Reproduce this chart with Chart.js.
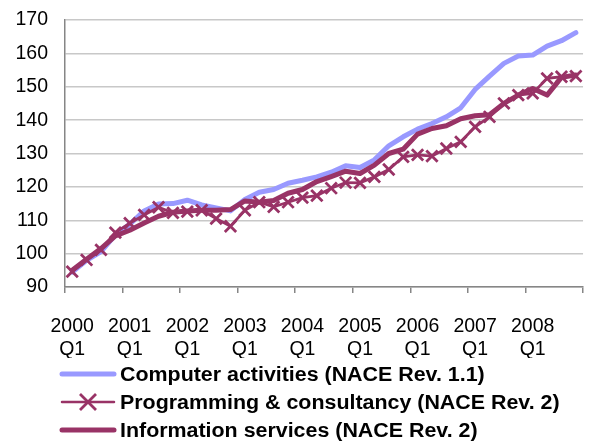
<!DOCTYPE html>
<html>
<head>
<meta charset="utf-8">
<script src="https://cdn.jsdelivr.net/npm/chart.js@4.4.1/dist/chart.umd.min.js"></script>
<style>
  html, body { margin: 0; padding: 0; background: #ffffff; }
  #wrap { width: 598px; height: 441px; }
</style>
</head>
<body>
<div id="wrap"><canvas id="c" width="598" height="441"></canvas></div>
<script>
// ---- data ----
const years = ['2000','2001','2002','2003','2004','2005','2006','2007','2008'];
const quarters = ['Q1','Q2','Q3','Q4'];
const categories = [];
years.forEach(y => quarters.forEach(q => categories.push(y + ' ' + q)));

const seriesNames = [
  'Computer activities (NACE Rev. 1.1)',
  'Programming & consultancy (NACE Rev. 2)',
  'Information services (NACE Rev. 2)'
];

const computerActivities = [
  94.5, 98.0, 100.6, 105.6, 108.8, 112.8, 114.9, 115.0, 116.0, 114.6, 113.7, 112.8,
  116.2, 118.4, 119.2, 121.1, 122.0, 123.0, 124.4, 126.3, 125.8, 128.1, 132.3, 135.0,
  137.3, 139.0, 141.0, 143.7, 149.2, 153.2, 157.0, 159.2, 159.5, 162.2, 163.8, 166.2
];
const programmingConsultancy = [
  94.6, 98.1, 101.1, 106.3, 109.1, 111.6, 113.9, 112.2, 112.6, 113.0, 110.5, 108.2,
  113.0, 115.4, 114.0, 115.4, 116.8, 117.4, 119.6, 121.3, 121.2, 123.0, 125.2, 129.0,
  129.6, 129.2, 131.5, 133.5, 138.0, 141.0, 145.0, 147.5, 148.0, 152.5, 153.0, 153.2
];
const informationServices = [
  95.0, 98.3, 101.5, 105.3, 107.0, 109.2, 111.2, 112.4, 112.8, 113.0, 113.0, 113.2,
  115.8, 115.4, 115.9, 118.1, 119.2, 121.6, 123.1, 124.7, 124.0, 126.5, 130.0, 131.3,
  135.8, 137.5, 138.3, 140.4, 141.3, 141.6, 145.0, 147.5, 149.5, 147.5, 152.8, 153.5
];

const yMin = 90, yMax = 170, yStep = 10;

// ---- styles ----
const FONT = '"Liberation Sans", Arial, sans-serif';
const BLUE = '#9999FF';
const MAROON = '#993366';
const AXIS = '#868686';
const GRID = '#c8c8c8';

const legendPlugin = {
  id: 'customLegend',
  afterDraw(chart) {
    const ctx = chart.ctx;
    const items = [
      { color: BLUE, width: 5, marker: false },
      { color: MAROON, width: 2.5, marker: true },
      { color: MAROON, width: 5, marker: false }
    ];
    const rows = [374, 402, 430];
    ctx.save();
    items.forEach((it, i) => {
      const y = rows[i];
      ctx.strokeStyle = it.color;
      ctx.lineWidth = it.width;
      ctx.lineCap = 'round';
      ctx.beginPath();
      ctx.moveTo(62, y);
      ctx.lineTo(114, y);
      ctx.stroke();
      if (it.marker) {
        const cx = 88, r = 8;
        ctx.lineWidth = 2.8;
        ctx.lineCap = 'butt';
        ctx.beginPath();
        ctx.moveTo(cx - r, y - r); ctx.lineTo(cx + r, y + r);
        ctx.moveTo(cx + r, y - r); ctx.lineTo(cx - r, y + r);
        ctx.stroke();
      }
      ctx.save();
      ctx.translate(120, y + 1);
      ctx.scale(1.07, 1);
      ctx.fillStyle = '#000000';
      ctx.font = 'bold 20px ' + FONT;
      ctx.textBaseline = 'middle';
      ctx.textAlign = 'left';
      ctx.fillText(seriesNames[i], 0, 0);
      ctx.restore();
    });
    ctx.restore();
  }
};

new Chart(document.getElementById('c'), {
  type: 'line',
  data: {
    labels: categories,
    datasets: [
      {
        label: seriesNames[0],
        data: computerActivities,
        borderColor: BLUE,
        backgroundColor: BLUE,
        borderWidth: 5,
        pointRadius: 0,
        tension: 0,
        borderCapStyle: 'round',
        borderJoinStyle: 'round',
        order: 3
      },
      {
        label: seriesNames[1],
        data: programmingConsultancy,
        borderColor: MAROON,
        backgroundColor: 'transparent',
        borderWidth: 2.8,
        pointStyle: 'crossRot',
        pointRadius: 8,
        pointBorderWidth: 2.8,
        pointBorderColor: MAROON,
        tension: 0,
        order: 2
      },
      {
        label: seriesNames[2],
        data: informationServices,
        borderColor: MAROON,
        backgroundColor: MAROON,
        borderWidth: 5,
        pointRadius: 0,
        tension: 0,
        borderCapStyle: 'round',
        borderJoinStyle: 'round',
        order: 1
      }
    ]
  },
  options: {
    responsive: false,
    animation: false,
    events: [],
    layout: { padding: { top: 20, left: 0, right: 1, bottom: 83 } },
    plugins: {
      legend: { display: false },
      tooltip: { enabled: false },
      title: { display: false }
    },
    scales: {
      x: {
        type: 'category',
        offset: true,
        grid: {
          offset: true,
          drawOnChartArea: false,
          drawTicks: true,
          tickLength: 6,
          lineWidth: 1.5,
          color: (c) => (c.type !== 'tick' || c.index % 4 === 0) ? AXIS : 'rgba(0,0,0,0)'
        },
        border: { display: true, color: AXIS, width: 1.5 },
        ticks: {
          autoSkip: false,
          maxRotation: 0,
          minRotation: 0,
          padding: 22,
          color: '#000000',
          font: { family: FONT, size: 19.5 },
          callback: function (value, index) {
            if (index % 4 !== 0) return '';
            const lab = categories[index].split(' ');
            return [lab[0], lab[1]];
          }
        },
        afterFit: (s) => { s.height = 71; }
      },
      y: {
        min: yMin,
        max: yMax,
        grid: {
          color: GRID,
          lineWidth: 1.5,
          drawTicks: true,
          tickLength: 17,
          tickColor: 'rgba(0,0,0,0)'
        },
        border: { display: true, color: AXIS, width: 1.5 },
        ticks: {
          stepSize: yStep,
          padding: 0,
          color: '#000000',
          font: { family: FONT, size: 19.5 }
        },
        afterFit: (s) => { s.width = 65; }
      }
    }
  },
  plugins: [legendPlugin]
});
</script>
</body>
</html>
